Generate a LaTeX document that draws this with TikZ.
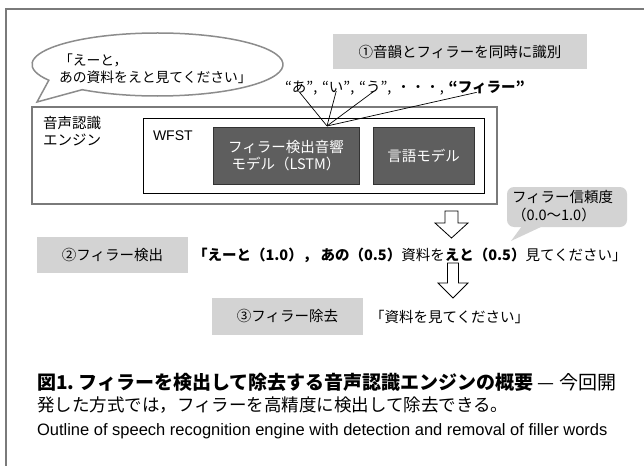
\documentclass[tikz,border=0pt]{standalone}
\usepackage{fontspec}
\usetikzlibrary{calc}
\setmainfont{Noto Sans CJK JP}
\newfontfamily\latinfont{Liberation Sans}
\definecolor{framegray}{HTML}{7A7A7A}
\definecolor{lightbox}{HTML}{D3D3D3}
\definecolor{darkbox}{HTML}{5E5E5E}
\definecolor{bubblegray}{HTML}{8C8C8C}
\begin{document}
\begin{tikzpicture}[x=1pt,y=-1pt,
  every node/.style={inner sep=0pt, outer sep=0pt},
  jp/.style={font=\fontsize{14.5}{17.5}\selectfont},
  graybox/.style={fill=lightbox, jp, minimum height=35pt},
  darkmodel/.style={fill=darkbox, draw=black!80, line width=0.6pt, text=white, jp, align=center, minimum height=57pt},
  hollowarrow/.style={draw=black, line width=0.8pt, fill=white, line join=miter},
  feed/.style={draw=black, line width=0.7pt},
]
\useasboundingbox (0,0) rectangle (644,465);

% outer frame (top and left edges visible)
\draw[framegray, line width=1.2pt] (6,466) -- (6,9) -- (645,9);

% speech bubble
\draw[bubblegray, line width=1.5pt, fill=white]
  (82.2,89.7) arc[start angle=233.13, end angle=570, x radius=125.5pt, y radius=31.5pt]
  -- (37,102) -- cycle;
\node[font=\fontsize{13.8}{17}\selectfont, anchor=west, align=left] (speech) at (59,69) {「えーと，\\あの資料をえと見てください」};

% step 1 label
\node[graybox, minimum width=254pt] (step1) at (460,52) {①音韻とフィラーを同時に識別};

% quoted unit labels
\node[jp, anchor=base west] (qa) at (285,93) {“あ”};
\node[jp, anchor=base west] (c1) at (qa.base east) {,\,\,};
\node[jp, anchor=base west] (qi) at (c1.base east) {“い”};
\node[jp, anchor=base west] (c2) at (qi.base east) {,\,\,};
\node[jp, anchor=base west] (qu) at (c2.base east) {“う”};
\node[jp, anchor=base west] (c3) at (qu.base east) {,\,\,・・・,\,\,};
\node[jp, anchor=base west, font=\fontsize{14.5}{17.5}\selectfont\bfseries] (qf) at (c3.base east) {“フィラー”};

% engine box
\draw[framegray, line width=1.3pt] (32,107) rectangle (497,204);
\node[jp, anchor=north west, align=left] (engine) at (43,116) {音声認識\\エンジン};

% WFST box
\node[draw=black, line width=0.7pt, minimum width=341pt, minimum height=75pt] (wfst) at (313.5,155.5) {};
\node[anchor=west, font=\latinfont\fontsize{14}{16}\selectfont] (wfstlabel) at (153,136) {WFST};

% models
\node[darkmodel, minimum width=146pt] (am) at (286,155.5) {フィラー検出音響\\モデル（LSTM）};
\node[darkmodel, minimum width=101pt] (lm) at (423.5,155.5) {言語モデル};

% feed lines
\coordinate (conv) at (327,126);
\draw[feed] ([yshift=2pt]qa.south) -- (conv);
\draw[feed] ([yshift=2pt]qi.south) -- (conv);
\draw[feed] ([yshift=2pt]qu.south) -- (conv);
\draw[feed] ([xshift=-10pt,yshift=2pt]qf.south) -- (conv);

% arrow 1
\coordinate (a1) at (451.5,211);
\draw[hollowarrow] ($(a1)+(-6.5,0)$) -- ($(a1)+(6.5,0)$) -- ($(a1)+(6.5,12)$) -- ($(a1)+(16.5,12)$)
  -- ($(a1)+(0,27)$) -- ($(a1)+(-16.5,12)$) -- ($(a1)+(-6.5,12)$) -- cycle;

% confidence callout
\fill[lightbox, rounded corners=7pt] (507,187) rectangle (627,227);
\fill[lightbox] (522,226) -- (511,241) -- (543,226) -- cycle;
\node[jp, anchor=west, align=left] (conf) at (512,206) {フィラー信頼度\\（0.0〜1.0）};

% step 2
\node[graybox, minimum width=151pt, minimum height=36pt] (step2) at (112.5,255) {②フィラー検出};
\node[jp, anchor=west] (result) at (193,255) {\textbf{「えーと（1.0），\ あの（0.5）}資料を\textbf{えと（0.5）}見てください」};

% arrow 2
\coordinate (a2) at (453,263);
\draw[hollowarrow] ($(a2)+(-5.5,0)$) -- ($(a2)+(5.5,0)$) -- ($(a2)+(5.5,20)$) -- ($(a2)+(15,20)$)
  -- ($(a2)+(0,35)$) -- ($(a2)+(-15,20)$) -- ($(a2)+(-5.5,20)$) -- cycle;

% step 3
\node[graybox, minimum width=151pt, minimum height=37pt] (step3) at (287.5,316.5) {③フィラー除去};
\node[jp, anchor=west] (final) at (370,317) {「資料を見てください」};

% caption
\node[anchor=west, font=\fontsize{19}{22}\selectfont] (cap1) at (37,382) {\textbf{図1.\ フィラーを検出して除去する音声認識エンジンの概要} — 今回開};
\node[anchor=west, font=\fontsize{17.5}{20}\selectfont] (cap2) at (37,405) {発した方式では，フィラーを高精度に検出して除去できる。};
\node[anchor=west, font=\latinfont\fontsize{16.5}{19}\selectfont] (cap3) at (37,431) {Outline of speech recognition engine with detection and removal of filler words};
\end{tikzpicture}
\end{document}
